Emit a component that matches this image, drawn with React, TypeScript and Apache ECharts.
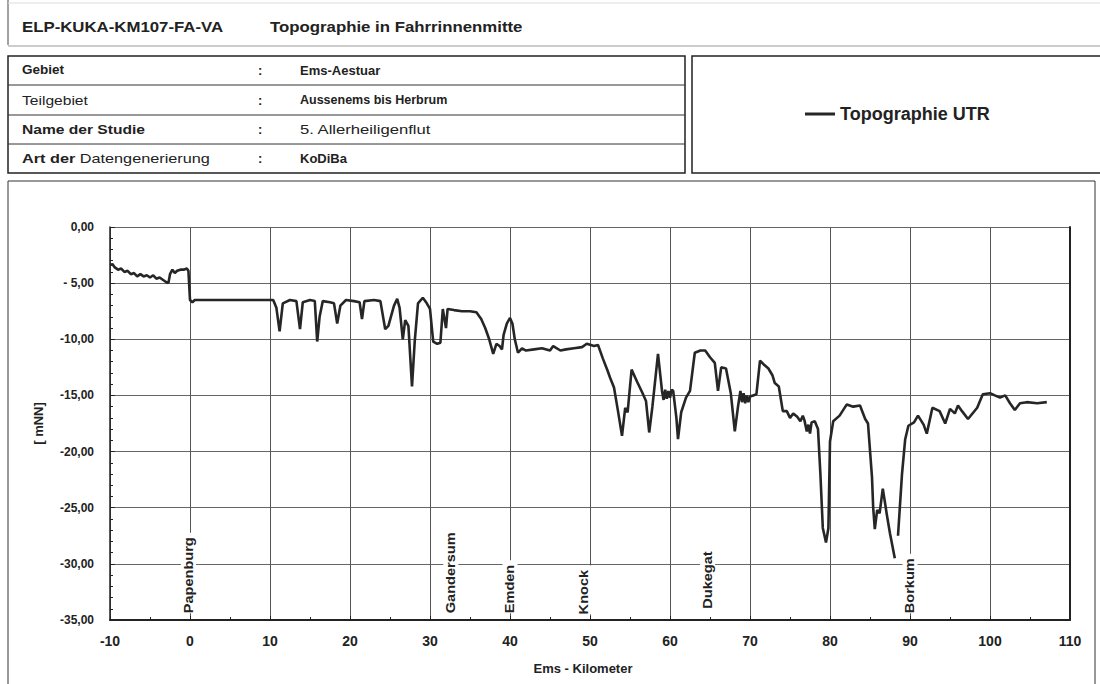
import React, { useEffect, useRef } from "react";
import * as echarts from "echarts";

// Ems-Kilometer (x) and Topographie UTR depth in mNN (y); null = gap in the profile
const kmValues = [
  -10, -9.7, -9.4, -9.0, -8.6, -8.2, -7.8, -7.4, -7.0, -6.6, -6.2, -5.8, -5.4, -5.0, -4.6, -4.2, -3.8, -3.4, -3.0, -2.7,
  -2.5, -2.2, -1.9, -1.6, -1.2, -0.8, -0.4, -0.2, 0.0, 0.3, 0.6, 2, 4, 6, 8, 10.4, 10.8, 11.2, 11.6, 12.5,
  13.3, 13.75, 14.1, 15.0, 15.6, 15.9, 16.2, 16.6, 17.5, 18.0, 18.4, 18.8, 19.5, 20.5, 21.2, 21.5, 21.8, 23.0, 23.8, 24.4,
  24.8, 25.5, 25.9, 26.2, 26.6, 26.9, 27.3, 27.75, 28.1, 28.5, 29.1, 29.6, 30.0, 30.4, 30.9, 31.3, 31.6, 32.0, 32.2, 33.0,
  34.0, 35.0, 35.8, 36.4, 36.9, 37.4, 37.9, 38.3, 38.7, 39.0, 39.2, 39.6, 40.0, 40.3, 40.6, 41.0, 41.5, 42.0, 43.0, 44.0,
  45.0, 45.4, 46.3, 47.0, 48.0, 49.0, 49.6, 50.5, 51.0, 51.6, 52.2, 52.5, 53.0, 53.5, 54.0, 54.4, 54.7, 55.2, 55.9, 56.5,
  57.0, 57.4, 57.8, 58.5, 59.0, 59.2, 59.4, 59.6, 59.8, 60.0, 60.2, 60.4, 60.8, 61.0, 61.4, 62.0, 62.5, 63.1, 63.8, 64.4,
  65.0, 65.6, 66.0, 66.4, 67.0, 67.6, 68.1, 68.5, 68.8, 69.0, 69.2, 69.4, 69.6, 69.8, 70.0, 70.4, 70.8, 71.25, 71.8, 72.3,
  72.8, 73.1, 73.6, 74.1, 74.6, 75.0, 75.4, 75.9, 76.3, 76.6, 76.8, 77.1, 77.3, 77.5, 77.7, 78.1, 78.5, 78.8, 79.1, 79.5,
  79.8, 80.0, 80.4, 81.2, 82.1, 82.9, 83.75, 84.4, 84.75, 85.25, 85.4, 85.6, 85.9, 86.2, 86.6, 87.1, 87.5, 88.1, 88.3, 88.5,
  89.0, 89.4, 89.8, 90.5, 91.0, 91.7, 92.1, 92.8, 93.7, 94.4, 95.0, 95.6, 96.0, 96.5, 97.25, 98.4, 99.1, 100.0, 100.6, 101.25,
  101.9, 102.5, 103.1, 103.75, 104.6, 105.9, 107.1,
];
const depthValues = [
  -3.4, -3.3, -3.6, -3.8, -3.7, -4.0, -3.9, -4.2, -4.1, -4.4, -4.2, -4.4, -4.3, -4.5, -4.3, -4.6, -4.5, -4.7, -4.9, -5.0,
  -4.2, -3.8, -4.1, -3.9, -3.8, -3.8, -3.7, -3.9, -6.5, -6.7, -6.5, -6.5, -6.5, -6.5, -6.5, -6.5, -7.2, -9.3, -6.8, -6.5,
  -6.6, -9.1, -6.7, -6.5, -6.6, -10.2, -8.0, -6.6, -6.7, -6.8, -8.6, -7.0, -6.5, -6.6, -6.7, -8.2, -6.6, -6.5, -6.6, -9.1,
  -8.8, -7.0, -6.4, -7.2, -10.0, -8.3, -8.8, -14.2, -10.1, -6.8, -6.3, -6.8, -7.3, -10.2, -10.4, -10.3, -7.3, -9.0, -7.3, -7.4,
  -7.5, -7.5, -7.6, -8.2, -9.0, -10.0, -11.3, -10.4, -10.6, -10.9, -9.6, -8.6, -8.1, -8.6, -10.0, -11.2, -10.8, -11.0, -10.9, -10.8,
  -11.0, -10.6, -11.0, -10.9, -10.8, -10.7, -10.4, -10.6, -10.5, -11.7, -12.8, -13.4, -14.3, -16.4, -18.6, -16.1, -16.5, -12.7, -13.8, -14.7,
  -15.5, -18.3, -16.0, -11.3, -14.6, -15.4, -14.5, -15.3, -14.6, -15.2, -14.5, -14.6, -17.0, -18.9, -16.5, -15.2, -14.6, -11.2, -11.0, -11.0,
  -11.6, -12.1, -14.6, -12.5, -12.6, -14.8, -18.2, -16.0, -14.6, -15.6, -14.8, -15.7, -15.0, -15.6, -15.1, -15.0, -14.9, -11.9, -12.3, -12.6,
  -13.2, -13.9, -14.2, -16.4, -16.4, -17.0, -16.6, -16.9, -17.3, -16.8, -17.2, -18.2, -17.6, -18.4, -17.4, -17.3, -18.0, -22.0, -26.8, -28.1,
  -26.8, -19.1, -17.3, -16.8, -15.8, -16.0, -15.9, -17.1, -17.5, -22.3, -25.0, -26.9, -25.2, -25.5, -23.3, -25.6, -27.3, -29.5, null, -27.5,
  -22.0, -18.9, -17.7, -17.4, -16.8, -17.6, -18.4, -16.1, -16.4, -17.5, -16.2, -16.6, -15.9, -16.4, -17.1, -16.1, -14.9, -14.8, -15.0, -15.2,
  -15.0, -15.7, -16.3, -15.7, -15.6, -15.7, -15.6,
];

const yTickLabels = ["0,00", "- 5,00", "-10,00", "-15,00", "-20,00", "-25,00", "-30,00", "-35,00"];

const placeNames = ["Papenburg", "Gandersum", "Emden", "Knock", "Dukegat", "Borkum"];
const placeKm = [-0.2, 32.6, 40.0, 49.2, 64.7, 90.0];
const placeBaseDepth = [-34.4, -34.4, -34.4, -34.5, -34.0, -34.4];

const infoLabels = ["Gebiet", "Teilgebiet", "Name der Studie", "Art der "];
const infoValues = ["Ems-Aestuar", "Aussenems bis Herbrum", "5. Allerheiligenflut", "KoDiBa"];

const FONT = "'Liberation Sans', Arial, Helvetica, sans-serif";
const INK = "#222";

export default function App() {
  const ref = useRef<HTMLDivElement>(null);

  useEffect(() => {
    if (!ref.current) return;
    const chart = echarts.init(ref.current, null, { renderer: "svg" });

    const lineData = kmValues.map((k, i) => [k, depthValues[i] === null ? "-" : depthValues[i]]);

    const txt = (text: string, x: number, y: number, size: number, weight: string, sx = 1) => ({
      type: "text",
      x,
      y,
      scaleX: sx,
      silent: true,
      style: {
        text,
        fill: INK,
        fontFamily: FONT,
        fontSize: size,
        fontWeight: weight,
        align: "left",
        verticalAlign: "middle",
      },
    });

    const rowMid = [70, 100, 129.5, 158.5];
    const staticGraphics: any[] = [
      // header
      { type: "line", shape: { x1: 8, y1: 0, x2: 8, y2: 45 }, style: { stroke: "#444", lineWidth: 1 } },
      { type: "line", shape: { x1: 8, y1: 3, x2: 1100, y2: 3 }, style: { stroke: "#ddd", lineWidth: 1 } },
      { type: "line", shape: { x1: 8, y1: 46, x2: 1100, y2: 46 }, style: { stroke: "#999", lineWidth: 1 } },
      txt("ELP-KUKA-KM107-FA-VA", 22, 27, 14, "bold", 1.2),
      txt("Topographie in Fahrrinnenmitte", 270, 27, 14, "bold", 1.2),
      // info table
      { type: "rect", shape: { x: 8, y: 56, width: 677, height: 117 }, style: { fill: "none", stroke: INK, lineWidth: 1.5 } },
      { type: "line", shape: { x1: 8, y1: 85, x2: 685, y2: 85 }, style: { stroke: "#333", lineWidth: 1 } },
      { type: "line", shape: { x1: 8, y1: 115, x2: 685, y2: 115 }, style: { stroke: "#333", lineWidth: 1 } },
      { type: "line", shape: { x1: 8, y1: 144, x2: 685, y2: 144 }, style: { stroke: "#333", lineWidth: 1 } },
      txt(infoLabels[0], 22, rowMid[0], 13, "bold", 1.04),
      txt(infoLabels[1], 22, rowMid[1], 13, "normal", 1.2),
      txt(infoLabels[2], 22, rowMid[2], 13, "bold", 1.2),
      {
        type: "text",
        x: 22,
        y: rowMid[3],
        scaleX: 1.25,
        silent: true,
        style: {
          text: "{b|" + infoLabels[3] + "}{n|Datengenerierung}",
          fill: INK,
          fontFamily: FONT,
          fontSize: 13,
          align: "left",
          verticalAlign: "middle",
          rich: {
            b: { fontFamily: FONT, fontSize: 13, fontWeight: "bold", fill: INK },
            n: { fontFamily: FONT, fontSize: 13, fontWeight: "normal", fill: INK },
          },
        },
      },
      ...rowMid.map((y) => txt(":", 258, y, 13, "bold")),
      txt(infoValues[0], 300, rowMid[0], 13, "bold", 1.0),
      txt(infoValues[1], 300, rowMid[1], 12.5, "bold", 1.0),
      txt(infoValues[2], 300, rowMid[2], 13, "normal", 1.28),
      txt(infoValues[3], 300, rowMid[3], 13, "bold", 1.0),
      // legend box
      { type: "rect", shape: { x: 692, y: 56, width: 420, height: 117 }, style: { fill: "none", stroke: INK, lineWidth: 1.5 } },
      // chart frame
      { type: "rect", shape: { x: 8, y: 181, width: 1087, height: 520 }, style: { fill: "none", stroke: "#333", lineWidth: 1 } },
    ];

    const option: any = {
      animation: false,
      backgroundColor: "#fff",
      textStyle: { fontFamily: FONT },
      legend: {
        show: true,
        left: 800,
        top: 100,
        icon: "rect",
        itemWidth: 30,
        itemHeight: 3,
        data: [{ name: "Topographie UTR" }],
        textStyle: { fontFamily: FONT, fontSize: 18, fontWeight: "bold", color: INK },
      },
      grid: { left: 110, top: 227, width: 960, height: 393 },
      xAxis: {
        type: "value",
        min: -10,
        max: 110,
        interval: 10,
        name: "Ems - Kilometer",
        nameLocation: "middle",
        nameGap: 42,
        nameTextStyle: { fontFamily: FONT, fontSize: 13, fontWeight: "bold", color: INK, padding: [0, 14, 0, 0] },
        axisLine: { show: true, onZero: false, lineStyle: { color: INK, width: 2 } },
        axisTick: { show: true, inside: true, length: 4, lineStyle: { color: INK } },
        minorTick: { show: true, splitNumber: 2, length: 3, lineStyle: { color: INK } },
        axisLabel: { fontFamily: FONT, fontSize: 14, fontWeight: "bold", color: INK, margin: 14 },
        splitLine: { show: true, lineStyle: { color: "#555", width: 1 } },
      },
      yAxis: [
        {
          type: "value",
          min: -35,
          max: 0,
          interval: 5,
          name: "[ mNN]",
          nameLocation: "middle",
          nameGap: 65,
          nameTextStyle: { fontFamily: FONT, fontSize: 13, fontWeight: "bold", color: INK },
          axisLine: { show: true, onZero: false, lineStyle: { color: INK, width: 1.5 } },
          axisTick: { show: true, inside: true, length: 5, lineStyle: { color: INK } },
          minorTick: { show: true, splitNumber: 5, length: 3, lineStyle: { color: INK } },
          axisLabel: {
            fontFamily: FONT,
            fontSize: 12,
            fontWeight: "bold",
            color: INK,
            margin: 16,
            formatter: (v: number) => yTickLabels[Math.round(-v / 5)] ?? "",
          },
          splitLine: { show: true, lineStyle: { color: "#666", width: 1 } },
        },
        {
          type: "value",
          min: -35,
          max: 0,
          interval: 5,
          position: "right",
          axisLine: { show: true, onZero: false, lineStyle: { color: INK, width: 2 } },
          axisTick: { show: false },
          axisLabel: { show: false },
          splitLine: { show: false },
        },
      ],
      series: [
        {
          name: "Topographie UTR",
          type: "line",
          data: lineData,
          symbol: "none",
          showSymbol: false,
          connectNulls: false,
          lineStyle: { color: "#262626", width: 2.6 },
          itemStyle: { color: "#262626" },
          z: 5,
        },
      ],
      graphic: staticGraphics,
    };

    chart.setOption(option);

    const placeGraphics = placeNames.map((name, i) => {
      const p = chart.convertToPixel({ gridIndex: 0 } as any, [placeKm[i], placeBaseDepth[i]]) as number[];
      return {
        type: "text",
        x: p[0],
        y: p[1],
        rotation: Math.PI / 2,
        scaleX: 1.12,
        silent: true,
        z: 10,
        style: {
          text: name,
          fill: INK,
          fontFamily: FONT,
          fontSize: 13,
          fontWeight: "bold",
          align: "left",
          verticalAlign: "middle",
          backgroundColor: "#fff",
          padding: [1, 4, 1, 0],
        },
      };
    });

    chart.setOption({ graphic: [...staticGraphics, ...placeGraphics] });

    return () => chart.dispose();
  }, []);

  return (
    <div
      ref={ref}
      style={{ position: "absolute", left: 0, top: 0, width: 1100, height: 684, background: "#fff" }}
    />
  );
}
